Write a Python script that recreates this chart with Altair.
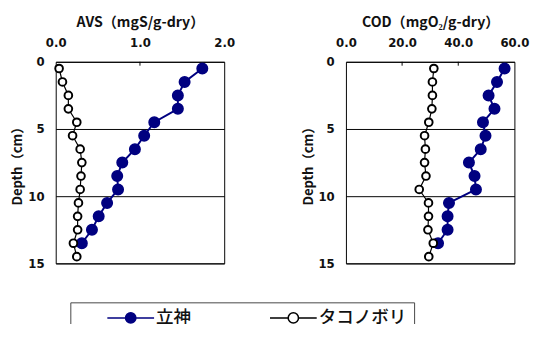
import altair as alt
import pandas as pd

depth = [0.5, 1.5, 2.5, 3.5, 4.5, 5.5, 6.5, 7.5, 8.5, 9.5, 10.5, 11.5, 12.5, 13.5, 14.5]
series_names = ["立神", "タコノボリ"]
avs_tategami = [1.74, 1.53, 1.45, 1.45, 1.17, 1.05, 0.94, 0.79, 0.73, 0.74, 0.61, 0.51, 0.43, 0.31]
avs_tako = [0.04, 0.08, 0.15, 0.15, 0.25, 0.20, 0.29, 0.31, 0.30, 0.29, 0.27, 0.26, 0.26, 0.21, 0.25]
cod_tategami = [56.5, 53.8, 50.8, 52.9, 48.8, 49.7, 48.0, 43.8, 45.8, 46.3, 36.7, 36.2, 36.2, 32.8]
cod_tako = [31.3, 30.8, 30.8, 30.6, 29.5, 28.0, 28.3, 28.0, 28.5, 26.1, 29.4, 29.4, 29.2, 31.1, 29.5]

avs_ticks = [0.0, 1.0, 2.0]
cod_ticks = [0.0, 20.0, 40.0, 60.0]
depth_ticks = [0, 5, 10, 15]

NAVY = "#000080"


def long_df(a, b):
    rows = []
    for d, v in zip(depth, a):
        rows.append({"depth": d, "value": v, "series": series_names[0]})
    for d, v in zip(depth, b):
        rows.append({"depth": d, "value": v, "series": series_names[1]})
    return pd.DataFrame(rows)


sym_path = ("M-1,0L-0.22,0M0.22,0L1,0"
            "M0.22,0A0.22,0.22,0,1,1,-0.22,0A0.22,0.22,0,1,1,0.22,0Z")

legend = alt.Legend(
    title=None, orient="none", direction="horizontal",
    legendX=15, legendY=247,
    symbolType=sym_path, symbolSize=2304, symbolStrokeWidth=1.6, clipHeight=16,
    symbolOffset=29, labelOffset=1,
    labelFont="Noto Sans CJK JP", labelFontSize=18, labelFontWeight=500, labelColor="#111",
    columnPadding=51, padding=8,
    strokeColor="#444",
)

fill_scale = alt.Scale(domain=series_names, range=[NAVY, "white"])
stroke_scale = alt.Scale(domain=series_names, range=[NAVY, "black"])


def panel(a, b, domain, ticks, title, inner_ticks):
    df = long_df(a, b)
    x = alt.X("value:Q", scale=alt.Scale(domain=domain, nice=False),
              axis=alt.Axis(orient="top", values=ticks, format=".1f", title=title,
                            grid=False, ticks=False, domain=False, labelFlush=False))
    y = alt.Y("depth:Q", scale=alt.Scale(domain=[0, 15], reverse=True, nice=False),
              axis=alt.Axis(values=depth_ticks, title="Depth（cm）", grid=True,
                            ticks=False, domain=False))
    base = alt.Chart(df)
    sel_a = alt.datum.series == series_names[0]
    sel_b = alt.datum.series == series_names[1]
    line_b = base.transform_filter(sel_b).mark_line(
        color="black", strokeWidth=1.2).encode(x=x, y=y, order="depth:Q")
    line_a = base.transform_filter(sel_a).mark_line(
        color=NAVY, strokeWidth=2).encode(x=x, y=y, order="depth:Q")
    enc = dict(
        x=x, y=y,
        fill=alt.Fill("series:N", scale=fill_scale, legend=legend),
        stroke=alt.Stroke("series:N", scale=stroke_scale, legend=legend),
    )
    pts_a = base.transform_filter(sel_a).mark_point(
        filled=True, strokeWidth=1.6, opacity=1, size=115).encode(**enc)
    pts_b = base.transform_filter(sel_b).mark_point(
        filled=True, strokeWidth=2, opacity=1, size=62).encode(**enc)
    tick_df = pd.DataFrame({"value": inner_ticks})
    tks = alt.Chart(tick_df).mark_rule(color="black", strokeWidth=1).encode(
        x=alt.X("value:Q"), y=alt.value(0), y2=alt.value(4))
    return alt.layer(line_b, line_a, pts_a, pts_b, tks).properties(width=173, height=207)


left = panel(avs_tategami, avs_tako, [0, 2], avs_ticks, "AVS（mgS/g-dry）", [1.0])
right = panel(cod_tategami, cod_tako, [0, 60], cod_ticks, "COD（mgO₂/g-dry）", [20.0, 40.0])

chart = alt.hconcat(left, right, spacing=66).configure(
    padding={"left": 2, "top": 2, "right": 0, "bottom": -16},
    background="white",
).configure_view(stroke="black", strokeWidth=1).configure_axis(
    labelFont="DejaVu Sans", labelFontWeight="bold", labelFontSize=12, labelColor="#111",
    titleFont="Noto Sans CJK JP", titleFontWeight="bold", titleColor="#111",
    gridColor="black", gridWidth=1, gridOpacity=1,
).configure_axisX(labelPadding=13, titlePadding=7, titleFontSize=14.5).configure_axisY(
    labelPadding=12, titlePadding=3, titleFontSize=13.5)

chart.save("out.html", embed_options={"renderer": "svg", "actions": False})
